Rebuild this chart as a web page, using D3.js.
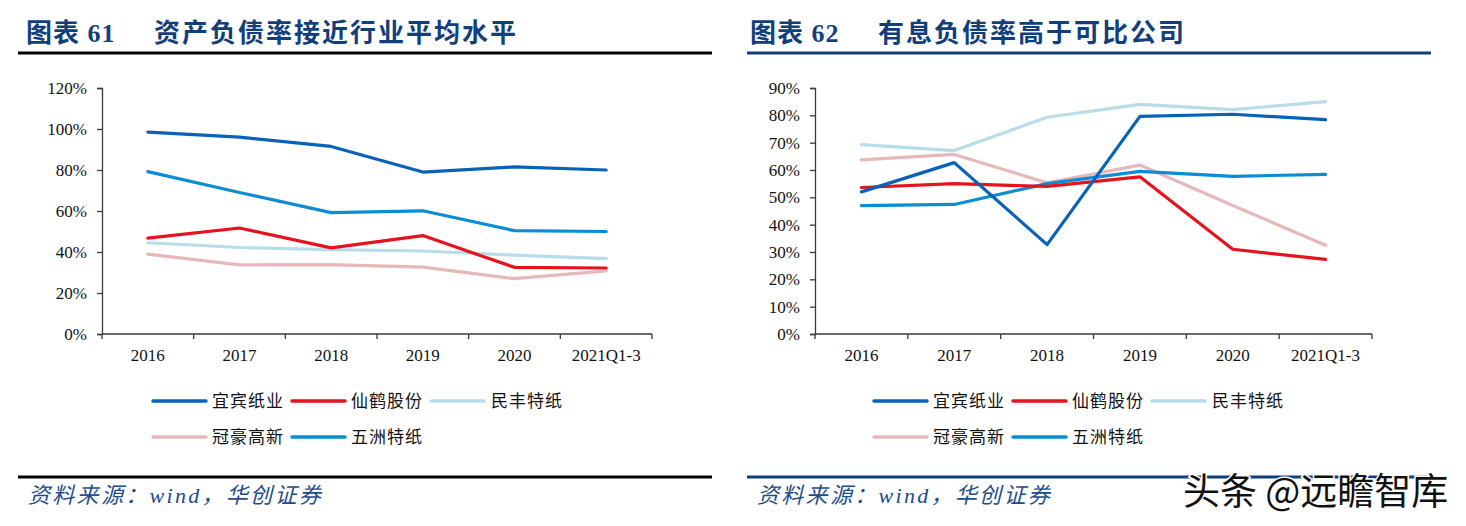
<!DOCTYPE html>
<html><head><meta charset="utf-8">
<script src="https://cdn.jsdelivr.net/npm/d3@7"></script>
<style>
html,body{margin:0;padding:0;background:#fff;}
svg{display:block;}
</style></head>
<body><svg id="c" width="1466" height="526"></svg>
<script>
const categories = ["2016","2017","2018","2019","2020","2021Q1-3"];
const seriesNames = ["宜宾纸业","仙鹤股份","民丰特纸","冠豪高新","五洲特纸"];
const seriesColors = ["#0863B8","#E8121E","#B8DDE9","#E6B8B9","#0A8DD3"];
// Chart 61: asset-liability ratio
const left_yibin   = [0.985,0.960,0.915,0.790,0.815,0.800];
const left_xianhe  = [0.468,0.517,0.420,0.480,0.325,0.322];
const left_minfeng = [0.445,0.422,0.412,0.405,0.385,0.368];
const left_guanhao = [0.390,0.337,0.338,0.326,0.270,0.308];
const left_wuzhou  = [0.792,0.690,0.592,0.601,0.504,0.500];
const leftTicks = [0,0.2,0.4,0.6,0.8,1.0,1.2];
// Chart 62: interest-bearing debt ratio
const right_yibin   = [0.520,0.627,0.327,0.796,0.804,0.784];
const right_xianhe  = [0.536,0.550,0.540,0.575,0.310,0.273];
const right_minfeng = [0.693,0.671,0.793,0.840,0.821,0.850];
const right_guanhao = [0.637,0.657,0.553,0.618,0.470,0.325];
const right_wuzhou  = [0.470,0.474,0.550,0.595,0.577,0.584];
const rightTicks = [0,0.1,0.2,0.3,0.4,0.5,0.6,0.7,0.8,0.9];

const titleLabels = ["图表 61","图表 62"];
const titleTexts = ["资产负债率接近行业平均水平","有息负债率高于可比公司"];
const sourceText = "资料来源：wind，华创证券";
const watermark = "头条 @远瞻智库";

const svg = d3.select("#c");

function drawPanel(opt){
  const g = svg.append("g");
  g.append("text").attr("x",opt.titleX).attr("y",42)
    .attr("font-family","'Liberation Serif','Noto Sans CJK SC',serif").attr("font-weight","bold")
    .attr("font-size",26).attr("letter-spacing",1).attr("fill","#123E7C").text(opt.label);
  g.append("text").attr("x",opt.titleX+128).attr("y",42)
    .attr("font-family","'Noto Sans CJK SC',sans-serif").attr("font-weight","bold")
    .attr("font-size",26).attr("letter-spacing",2).attr("fill","#123E7C").text(opt.title);
  g.append("rect").attr("x",opt.ruleX0).attr("y",51.5).attr("width",opt.ruleX1-opt.ruleX0).attr("height",3).attr("fill",opt.ruleColor);
  g.append("rect").attr("x",opt.ruleX0).attr("y",475.5).attr("width",opt.ruleX1-opt.ruleX0).attr("height",3).attr("fill",opt.ruleColor);
  g.append("text").attr("x",opt.ruleX0+10).attr("y",503)
    .attr("font-family","'Liberation Serif','Noto Sans CJK SC',serif").attr("font-style","italic")
    .attr("font-size",22).attr("letter-spacing",2.3).attr("fill","#1E4D8C").text(sourceText);

  const x = d3.scaleBand().domain(categories).range([opt.x0,opt.x1]).paddingInner(0).paddingOuter(0);
  const y = d3.scaleLinear().domain([0,opt.ymax]).range([334,88]);
  const bw = x.bandwidth();

  const yAxis = d3.axisLeft(y).tickValues(opt.ticks).tickSize(5).tickFormat(d3.format(".0%"));
  const ya = g.append("g").attr("transform",`translate(${opt.x0},0)`).call(yAxis);
  ya.selectAll("path,line").attr("stroke","#3a3a3a").attr("stroke-width",1.3);
  ya.selectAll("text").attr("font-family","'Liberation Serif',serif").attr("font-size",17).attr("fill","#111").attr("x",-15);

  const xa = g.append("g");
  xa.append("line").attr("x1",opt.x0).attr("x2",opt.x1).attr("y1",y(0)).attr("y2",y(0)).attr("stroke","#3a3a3a").attr("stroke-width",1.3);
  const edges = categories.map(c=>x(c)).concat([x(categories[categories.length-1])+bw]);
  xa.selectAll("line.tk").data(edges).enter().append("line").attr("class","tk")
    .attr("x1",d=>d).attr("x2",d=>d).attr("y1",y(0)).attr("y2",y(0)+5).attr("stroke","#3a3a3a").attr("stroke-width",1.3);
  xa.selectAll("text").data(categories).enter().append("text")
    .attr("x",d=>x(d)+bw/2).attr("y",361).attr("text-anchor","middle")
    .attr("font-family","'Liberation Serif',serif").attr("font-size",17).attr("fill","#111").text(d=>d);

  const line = d3.line().x((d,i)=>x(categories[i])+bw/2).y(d=>y(d));
  const order = [3,2,4,1,0];
  order.forEach(k=>{
    g.append("path").datum(opt.series[k]).attr("d",line).attr("fill","none")
      .attr("stroke",seriesColors[k]).attr("stroke-width",3.2).attr("stroke-linejoin","round").attr("stroke-linecap","round");
  });

  const lg = g.append("g");
  const colX = [opt.legX, opt.legX+139, opt.legX+278];
  const textOff = [59,59,60];
  seriesNames.forEach((n,i)=>{
    const row = i<3?0:1, col = i<3?i:i-3;
    const ly = row===0?401:437;
    const lx = colX[col];
    lg.append("line").attr("x1",lx).attr("x2",lx+53).attr("y1",ly).attr("y2",ly)
      .attr("stroke",seriesColors[i]).attr("stroke-width",3.5).attr("stroke-linecap","round");
    lg.append("text").attr("x",lx+textOff[col]).attr("y",ly+6)
      .attr("font-family","'Noto Sans CJK SC',sans-serif").attr("font-size",17).attr("letter-spacing",1).attr("fill","#111").text(n);
  });
}

drawPanel({label:titleLabels[0],title:titleTexts[0],titleX:26,ruleX0:18,ruleX1:712,ruleColor:"#000",
  x0:102,x1:652,ymax:1.2,ticks:leftTicks,legX:153,
  series:[left_yibin,left_xianhe,left_minfeng,left_guanhao,left_wuzhou]});
drawPanel({label:titleLabels[1],title:titleTexts[1],titleX:750,ruleX0:747,ruleX1:1431,ruleColor:"#0F3D7E",
  x0:815,x1:1372,ymax:0.9,ticks:rightTicks,legX:874,
  series:[right_yibin,right_xianhe,right_minfeng,right_guanhao,right_wuzhou]});

svg.append("text").attr("x",1183).attr("y",505)
  .attr("font-family","'Noto Sans CJK SC',sans-serif").attr("font-size",37)
  .attr("fill","#111").attr("stroke","#fff").attr("stroke-width",3).attr("paint-order","stroke")
  .text(watermark);
</script>
</body></html>
